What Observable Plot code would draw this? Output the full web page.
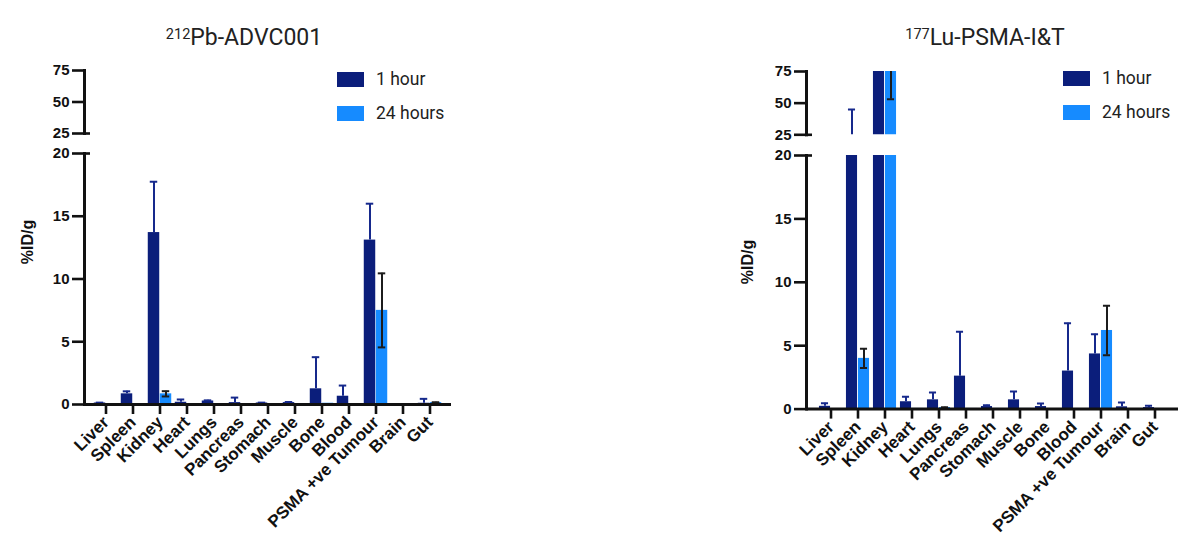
<!DOCTYPE html>
<html>
<head>
<meta charset="utf-8">
<script src="https://cdn.jsdelivr.net/npm/d3@7"></script>
<script src="https://cdn.jsdelivr.net/npm/@observablehq/plot@0.6"></script>
<style>
  body { margin:0; background:#fff; width:1200px; height:551px; overflow:hidden; position:relative; font-family:"Liberation Sans", Arial, sans-serif; }
  .abs { position:absolute; }
  .title { font-family: Roboto, "Liberation Sans", sans-serif; font-size:23px; color:#222; white-space:nowrap; transform:translateX(-50%); line-height:1; }
  .title sup { font-size:14.5px; vertical-align:6px; }
  .sw { position:absolute; width:27px; height:15px; }
  .lt { position:absolute; font-family: Roboto, "Liberation Sans", sans-serif; font-size:17.5px; color:#222; line-height:1; white-space:nowrap; }
  .ylab { position:absolute; font-weight:bold; font-size:16px; color:#111; transform:translate(-50%,-50%) rotate(-90deg); white-space:nowrap; }
  svg { position:absolute; overflow:visible; }
</style>
</head>
<body>
<div id="root"></div>
<script>
// ---------------- data ----------------
const organs = ["Liver","Spleen","Kidney","Heart","Lungs","Pancreas","Stomach","Muscle","Bone","Blood","PSMA +ve Tumour","Brain","Gut"];
const series = ["1 hour", "24 hours"];

// 212Pb-ADVC001 (%ID/g)
const pb1hMean  = [0.12, 0.85, 13.7, 0.18, 0.28, 0.15, 0.12, 0.15, 1.25, 0.66, 13.1, 0.03, 0.10];
const pb1hSD    = [0.03, 0.20, 4.05, 0.22, 0.05, 0.40, 0.03, 0.05, 2.52, 0.85, 2.90, 0.00, 0.35];
const pb24hMean = [0.02, 0.05, 0.85, 0.05, 0.03, 0.03, 0.02, 0.02, 0.10, 0.05, 7.50, 0.01, 0.15];
const pb24hSD   = [0.00, 0.00, 0.21, 0.00, 0.00, 0.00, 0.00, 0.00, 0.00, 0.00, 2.95, 0.00, 0.03];

// 177Lu-PSMA-I&T (%ID/g)
const lu1hMean  = [0.22, 22.0, 80.0, 0.58, 0.73, 2.60, 0.20, 0.73, 0.20, 3.00, 4.35, 0.18, 0.12];
const lu1hSD    = [0.25, 23.0, 10.0, 0.39, 0.58, 3.50, 0.10, 0.66, 0.25, 3.78, 1.55, 0.34, 0.14];
const lu24hMean = [0.02, 4.00, 76.0, 0.05, 0.12, 0.05, 0.05, 0.05, 0.02, 0.01, 6.20, 0.01, 0.01];
const lu24hSD   = [0.00, 0.75, 23.0, 0.00, 0.03, 0.00, 0.00, 0.00, 0.00, 0.00, 1.95, 0.00, 0.00];

const upperTicks = [25, 50, 75];
const lowerTicks = [0, 5, 10, 15, 20];
const titles = [["212", "Pb-ADVC001"], ["177", "Lu-PSMA-I&T"]];
const yLabel = "%ID/g";

// ---------------- style ----------------
const C1 = "#0b1e7b", C24 = "#168bff", CE1 = "#16298c", CE24 = "#1c1c1c";
const root = document.getElementById("root");

function rows(m1, s1, m24, s24) {
  return organs.map((o, i) => ({organ: o, m1: m1[i], s1: s1[i], m24: m24[i], s24: s24[i]}));
}

function panel({data, domain, ticks, left, topY, plotH, mL, mR, lower}) {
  const W = 600, mT = 8, mB = lower ? 140 : 8;
  const po = 0.165;
  const frameW = W - mL - mR;
  const step = frameW / (organs.length + 2 * po);
  const h = step / 2, bw = 12, cap = 4;
  const e1 = data.filter(d => d.s1 > 0);
  const e24 = data.filter(d => d.s24 > 0);
  const breakVal = lower ? domain[1] : domain[0];
  const marks = [
    Plot.barY(data, {x: "organ", y: "m1", fill: C1, insetLeft: h - bw, insetRight: h, clip: true}),
    Plot.barY(data, {x: "organ", y: "m24", fill: C24, insetLeft: h, insetRight: h - bw, clip: true}),
    Plot.ruleX(e1, {x: "organ", y1: "m1", y2: d => d.m1 + d.s1, stroke: CE1, strokeWidth: 2, dx: -bw / 2, clip: true}),
    Plot.tickY(e1, {x: "organ", y: d => d.m1 + d.s1, stroke: CE1, strokeWidth: 2, dx: -bw / 2, insetLeft: h - cap, insetRight: h - cap, clip: true}),
    Plot.ruleX(e24, {x: "organ", y1: d => d.m24 - d.s24, y2: d => d.m24 + d.s24, stroke: CE24, strokeWidth: 2, dx: bw / 2, clip: true}),
    Plot.tickY(e24, {x: "organ", y: d => d.m24 + d.s24, stroke: CE24, strokeWidth: 2, dx: bw / 2, insetLeft: h - cap, insetRight: h - cap, clip: true}),
    Plot.tickY(e24, {x: "organ", y: d => d.m24 - d.s24, stroke: CE24, strokeWidth: 2, dx: bw / 2, insetLeft: h - cap, insetRight: h - cap, clip: true}),
    Plot.frame({anchor: "left", stroke: "#111", strokeWidth: 3}),
    Plot.axisY({ticks, tickSize: 12, tickPadding: 3, fontSize: 15, fontWeight: "bold", strokeWidth: 2.6, stroke: "#111", fill: "#111", label: null, tickFormat: d => String(d)}),
    // break mark: right half of the tick at the broken end
    Plot.tickY([breakVal], {y: d => d, stroke: "#111", strokeWidth: 2.6, insetRight: frameW - 6, insetLeft: -1})
  ];
  if (lower) {
    marks.push(Plot.ruleY([0], {stroke: "#111", strokeWidth: 3}));
    marks.push(Plot.axisX({tickRotate: -45, tickSize: 10, tickPadding: 5, fontSize: 17, fontWeight: "bold", strokeWidth: 2.6, stroke: "#111", fill: "#111", label: null}));
  }
  const svg = Plot.plot({
    width: W, height: mT + plotH + mB,
    marginLeft: mL, marginRight: mR, marginTop: mT, marginBottom: mB,
    style: {fontFamily: "'Liberation Sans', Arial, sans-serif", color: "#111", background: "transparent"},
    x: {domain: organs, paddingInner: 0, paddingOuter: po, axis: lower ? undefined : null},
    y: {domain, axis: null},
    marks
  });
  svg.style.left = left + "px";
  svg.style.top = (topY - mT) + "px";
  root.appendChild(svg);
}

function chart({data, left, mL, mR, y75, y25, y20, y0, title, titleX, legX, legY, labX, labY}) {
  panel({data, domain: [25, 75], ticks: upperTicks, left, topY: y75, plotH: y25 - y75, mL, mR, lower: false});
  panel({data, domain: [0, 20], ticks: lowerTicks, left, topY: y20, plotH: y0 - y20, mL, mR, lower: true});
  const t = document.createElement("div");
  t.className = "abs title";
  t.style.left = titleX + "px"; t.style.top = "26px";
  const sup = document.createElement("sup"); sup.textContent = title[0];
  t.appendChild(sup); t.appendChild(document.createTextNode(title[1]));
  root.appendChild(t);
  [C1, C24].forEach((c, i) => {
    const s = document.createElement("div");
    s.className = "sw"; s.style.background = c;
    s.style.left = legX + "px"; s.style.top = (legY + i * 34) + "px";
    root.appendChild(s);
    const l = document.createElement("div");
    l.className = "lt"; l.textContent = series[i];
    l.style.left = (legX + 39) + "px"; l.style.top = (legY + i * 34 - 1) + "px";
    root.appendChild(l);
  });
  const yl = document.createElement("div");
  yl.className = "ylab"; yl.textContent = yLabel;
  yl.style.left = labX + "px"; yl.style.top = labY + "px";
  root.appendChild(yl);
}

chart({data: rows(pb1hMean, pb1hSD, pb24hMean, pb24hSD), left: 0, mL: 84, mR: 149,
       y75: 70, y25: 133, y20: 153, y0: 404, title: titles[0], titleX: 244, legX: 337, legY: 72, labX: 28, labY: 242});
chart({data: rows(lu1hMean, lu1hSD, lu24hMean, lu24hSD), left: 600, mL: 206, mR: 22,
       y75: 70.7, y25: 134, y20: 154.7, y0: 408.3, title: titles[1], titleX: 985, legX: 1063, legY: 71, labX: 748, labY: 262});
</script>
</body>
</html>
